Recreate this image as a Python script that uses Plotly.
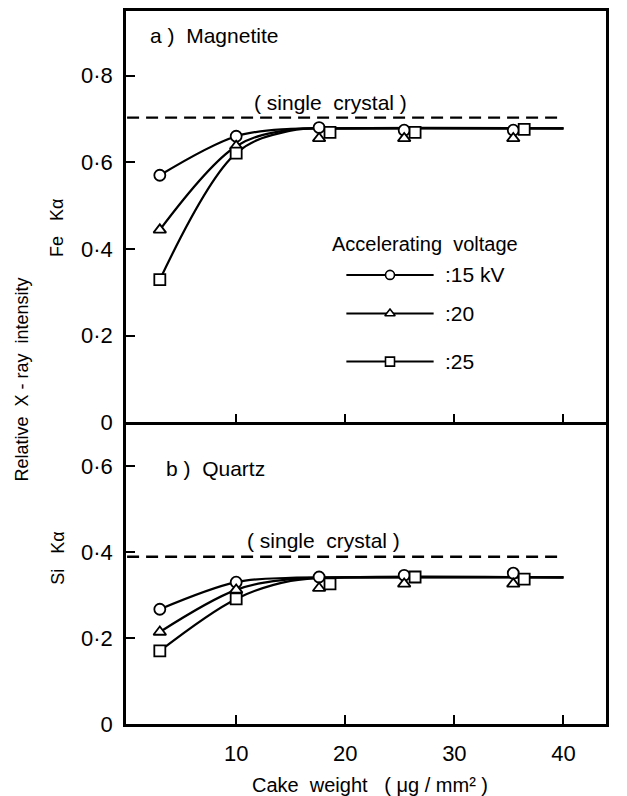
import plotly.graph_objects as go

# ---------------- data ----------------
x_ct = [3, 10, 17.6, 25.4, 35.4]        # circles / triangles cake weight
x_sq = [3, 10, 18.6, 26.4, 36.4]        # squares (drawn slightly offset)

fe_15 = [0.570, 0.660, 0.680, 0.674, 0.674]
fe_20 = [0.444, 0.637, 0.655, 0.655, 0.655]
fe_25 = [0.329, 0.621, 0.669, 0.669, 0.676]

si_15 = [0.267, 0.330, 0.342, 0.346, 0.351]
si_20 = [0.214, 0.312, 0.316, 0.326, 0.326]
si_25 = [0.170, 0.291, 0.326, 0.342, 0.337]

# fitted curves
fit_x = [3, 10, 15, 20, 40]
fe_fit_15 = [0.570, 0.660, 0.677, 0.678, 0.678]
fe_fit_20 = [0.444, 0.637, 0.675, 0.678, 0.678]
fe_fit_25 = [0.329, 0.621, 0.673, 0.678, 0.678]
si_fit_15 = [0.267, 0.330, 0.340, 0.341, 0.341]
si_fit_20 = [0.214, 0.312, 0.337, 0.341, 0.341]
si_fit_25 = [0.170, 0.291, 0.333, 0.341, 0.341]

crystal_x = [0, 40]
fe_crystal = 0.703
si_crystal = 0.389

voltages = [":15 kV", ":20", ":25"]
symbols = ["circle", "triangle-up", "square"]

x_ticks = [10, 20, 30, 40]
fe_ticks = [0, 0.2, 0.4, 0.6, 0.8]
fe_ticktext = ["0", "0·2", "0·4", "0·6", "0·8"]
si_ticks = [0, 0.2, 0.4, 0.6]
si_ticktext = ["0", "0·2", "0·4", "0·6"]

# ---------------- figure ----------------
FONT = "Liberation Sans"
BLACK = "black"
fig = go.Figure()

def add_panel(xa, ya, fits, ys, crystal):
    for fy in fits:
        fig.add_trace(go.Scatter(x=fit_x, y=fy, mode="lines", xaxis=xa, yaxis=ya,
                                 line=dict(color=BLACK, width=2.2, shape="spline", smoothing=1.0),
                                 showlegend=False, hoverinfo="skip"))
    fig.add_trace(go.Scatter(x=crystal_x, y=[crystal, crystal], mode="lines", xaxis=xa, yaxis=ya,
                             line=dict(color=BLACK, width=2.4, dash="12px,7px"),
                             showlegend=False, hoverinfo="skip"))
    xs = [x_ct, x_ct, x_sq]
    for sym, xv, yv in zip(symbols, xs, ys):
        fig.add_trace(go.Scatter(x=xv, y=yv, mode="markers", xaxis=xa, yaxis=ya,
                                 marker=dict(symbol=sym, size=11,
                                             color="white", line=dict(color=BLACK, width=1.8)),
                                 showlegend=False))

add_panel("x2", "y2", [fe_fit_15, fe_fit_20, fe_fit_25], [fe_15, fe_20, fe_25], fe_crystal)
add_panel("x", "y", [si_fit_15, si_fit_20, si_fit_25], [si_15, si_20, si_25], si_crystal)

# legend drawn inside the top panel
leg_y = [0.340, 0.251, 0.140]
leg_line_x = [20.1, 28.1]
leg_mark_x = 24.1
for sym, ly, lab in zip(symbols, leg_y, voltages):
    fig.add_trace(go.Scatter(x=leg_line_x, y=[ly, ly], mode="lines", xaxis="x2", yaxis="y2",
                             line=dict(color=BLACK, width=2), showlegend=False, hoverinfo="skip"))
    fig.add_trace(go.Scatter(x=[leg_mark_x], y=[ly], mode="markers", xaxis="x2", yaxis="y2",
                             marker=dict(symbol=sym, size=9, color="white",
                                         line=dict(color=BLACK, width=1.6)),
                             showlegend=False, hoverinfo="skip"))
    fig.add_annotation(x=29.0, y=ly, xref="x2", yref="y2", text=lab, showarrow=False,
                       xanchor="left", yanchor="middle", font=dict(size=21, family=FONT, color=BLACK))

fig.add_annotation(x=18.6, y=0.411, xref="x2", yref="y2", text="Accelerating  voltage",
                   showarrow=False, xanchor="left", yanchor="middle",
                   font=dict(size=20, family=FONT, color=BLACK))

# panel labels
fig.add_annotation(x=1.9, y=0.892, xref="x2", yref="y2", text="a )  Magnetite", showarrow=False,
                   xanchor="left", yanchor="middle", font=dict(size=21, family=FONT, color=BLACK))
fig.add_annotation(x=3.4, y=0.595, xref="x", yref="y", text="b )  Quartz", showarrow=False,
                   xanchor="left", yanchor="middle", font=dict(size=21, family=FONT, color=BLACK))
fig.add_annotation(x=18.6, y=0.738, xref="x2", yref="y2", text="( single  crystal )", showarrow=False,
                   xanchor="center", yanchor="middle", font=dict(size=21, family=FONT, color=BLACK))
fig.add_annotation(x=18.0, y=0.426, xref="x", yref="y", text="( single  crystal )", showarrow=False,
                   xanchor="center", yanchor="middle", font=dict(size=21, family=FONT, color=BLACK))

# axis titles (paper coordinates)
W_L, W_R, H_T, H_B = 126, 606, 8, 724
def px(xp):
    return (xp - W_L) / (W_R - W_L)
def py(yp):
    return (H_B - yp) / (H_B - H_T)

fig.add_annotation(x=px(22), y=py(378), xref="paper", yref="paper", text="Relative  X - ray  intensity",
                   textangle=-90, showarrow=False, xanchor="center", yanchor="middle",
                   font=dict(size=18, family=FONT, color=BLACK))
fig.add_annotation(x=px(57), y=py(226), xref="paper", yref="paper", text="Fe   Kα",
                   textangle=-90, showarrow=False, xanchor="center", yanchor="middle",
                   font=dict(size=18, family=FONT, color=BLACK))
fig.add_annotation(x=px(58), y=py(558), xref="paper", yref="paper", text="Si   Kα",
                   textangle=-90, showarrow=False, xanchor="center", yanchor="middle",
                   font=dict(size=18, family=FONT, color=BLACK))
fig.add_annotation(x=px(370), y=py(785), xref="paper", yref="paper", text="Cake  weight   ( μg / mm² )",
                   showarrow=False, xanchor="center", yanchor="middle",
                   font=dict(size=20, family=FONT, color=BLACK))

split = (724 - 421) / (724 - 8)
xrange = [-0.1, 43.9]
axis_common = dict(showline=True, linecolor=BLACK, linewidth=2.5, showgrid=False,
                   zeroline=False, ticks="inside", ticklen=9, tickwidth=2, tickcolor=BLACK,
                   tickfont=dict(size=22, family=FONT, color=BLACK))

fig.update_layout(
    width=627, height=796,
    margin=dict(l=W_L, r=627 - W_R, t=H_T, b=796 - H_B),
    paper_bgcolor="white", plot_bgcolor="white",
    showlegend=False,
    xaxis=dict(domain=[0, 1], anchor="y", range=xrange, tickvals=x_ticks, ticklabelstandoff=8,
               mirror=False, **axis_common),
    xaxis2=dict(domain=[0, 1], anchor="y2", range=xrange, tickvals=x_ticks, showticklabels=False,
                mirror=True, **axis_common),
    yaxis=dict(domain=[0, split], anchor="x", range=[0, 0.702], tickvals=si_ticks,
               ticktext=si_ticktext, ticklabelstandoff=6, mirror=True, **axis_common),
    yaxis2=dict(domain=[split, 1], anchor="x2", range=[0, 0.949], tickvals=fe_ticks,
                ticktext=fe_ticktext, ticklabelstandoff=6, mirror=True, **axis_common),
)

fig.write_html("out.html", config={"displayModeBar": False},
               post_script="document.body.style.margin='0px';")
